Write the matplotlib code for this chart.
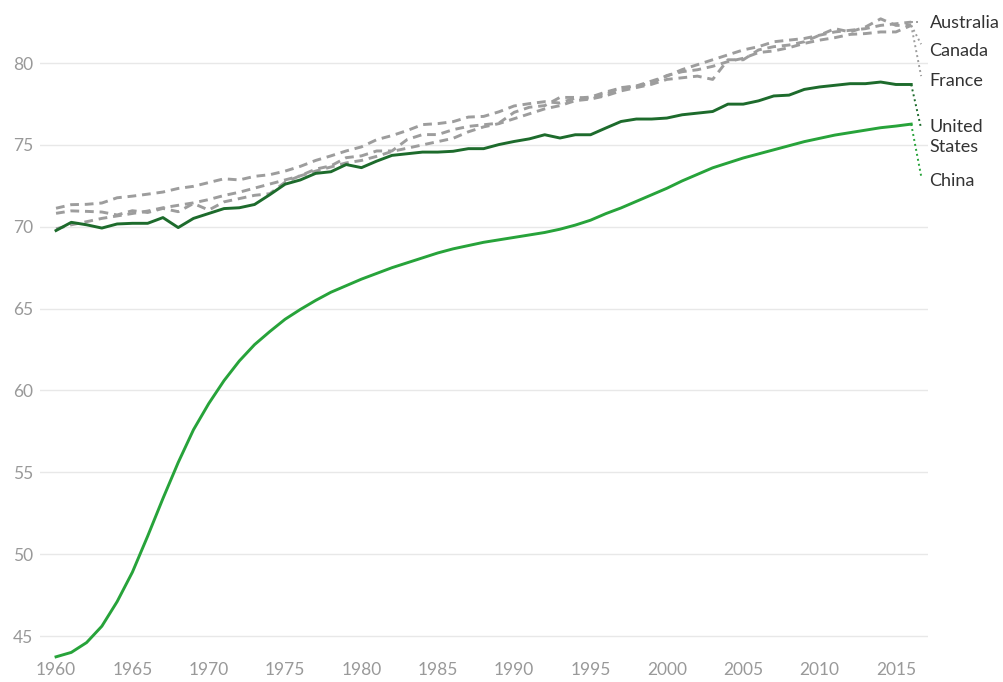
import matplotlib
matplotlib.use("Agg")
import matplotlib.pyplot as plt
import numpy as np

years = list(range(1960, 2017))

china = [43.73, 44.0, 44.6, 45.6, 47.1, 48.9, 51.1, 53.4, 55.6, 57.6,
         59.2, 60.6, 61.8, 62.8, 63.6, 64.35, 64.95, 65.5, 66.0, 66.4,
         66.8, 67.15, 67.5, 67.8, 68.1, 68.4, 68.65, 68.85, 69.05, 69.2,
         69.35, 69.5, 69.65, 69.85, 70.1, 70.4, 70.8, 71.15, 71.55, 71.95,
         72.35, 72.8, 73.2, 73.6, 73.9, 74.2, 74.45, 74.7, 74.95, 75.2,
         75.4, 75.6, 75.75, 75.9, 76.05, 76.15, 76.27]

united_states = [69.77, 70.27, 70.12, 69.92, 70.17, 70.21, 70.21, 70.56, 69.95, 70.51,
                 70.81, 71.11, 71.16, 71.36, 71.96, 72.6, 72.86, 73.26, 73.36, 73.8,
                 73.61, 74.01, 74.36, 74.46, 74.56, 74.56, 74.61, 74.77, 74.77, 75.02,
                 75.21, 75.37, 75.62, 75.42, 75.62, 75.62, 76.03, 76.43, 76.58, 76.58,
                 76.64, 76.84, 76.94, 77.04, 77.49, 77.49, 77.69, 77.99, 78.04, 78.39,
                 78.54, 78.64, 78.74, 78.74, 78.84, 78.69, 78.69]

canada = [71.13, 71.35, 71.37, 71.45, 71.77, 71.87, 71.99, 72.12, 72.34, 72.47,
          72.7, 72.93, 72.86, 73.08, 73.18, 73.4, 73.69, 74.05, 74.33, 74.63,
          74.88, 75.32, 75.57, 75.88, 76.24, 76.3, 76.42, 76.7, 76.74, 77.02,
          77.38, 77.52, 77.64, 77.56, 77.86, 77.92, 78.23, 78.48, 78.58, 78.79,
          79.24, 79.47, 79.59, 79.8, 80.09, 80.29, 80.64, 80.74, 80.94, 81.2,
          81.4, 81.55, 81.75, 81.8, 81.9, 81.9, 82.3]

australia = [70.82, 70.97, 70.94, 70.90, 70.72, 70.98, 70.87, 71.12, 70.92, 71.42,
             71.02, 71.52, 71.72, 71.92, 72.02, 72.72, 73.12, 73.52, 73.72, 74.22,
             74.33, 74.63, 74.63, 75.33, 75.63, 75.63, 75.93, 76.13, 76.23, 76.33,
             76.99, 77.3, 77.4, 77.9, 77.9, 77.8, 78.1, 78.5, 78.6, 78.9,
             79.2, 79.6, 79.9, 80.2, 80.5, 80.8, 81.0, 81.3, 81.4, 81.5,
             81.7, 81.9, 82.0, 82.1, 82.3, 82.4, 82.5]

france = [69.87, 70.12, 70.31, 70.51, 70.66, 70.81, 70.96, 71.16, 71.31, 71.46,
          71.66, 71.91, 72.11, 72.36, 72.61, 72.86, 73.11, 73.4, 73.65, 73.9,
          74.05, 74.3, 74.6, 74.8, 75.0, 75.2, 75.4, 75.8, 76.1, 76.3,
          76.6, 76.9, 77.2, 77.4, 77.7, 77.8, 78.0, 78.3, 78.5, 78.7,
          79.0, 79.1, 79.2, 79.0, 80.2, 80.2, 80.8, 81.0, 81.1, 81.3,
          81.7, 82.1, 81.9, 82.2, 82.7, 82.3, 82.3]

y_ticks = [45, 50, 55, 60, 65, 70, 75, 80]
x_ticks = [1960, 1965, 1970, 1975, 1980, 1985, 1990, 1995, 2000, 2005, 2010, 2015]
labels = ["Australia", "Canada", "France", "United\nStates", "China"]

plt.rcParams['font.family'] = ['Lato', 'DejaVu Sans']

W, H = 1004, 682
fig = plt.figure(figsize=(W / 100, H / 100), dpi=100)
ax = fig.add_axes([40 / W, 1 - 656 / H, (928 - 40) / W, (656 - 10) / H])

ax.set_xlim(1958.95, 2017.1)
ax.set_ylim(43.78, 83.24)

gray = "#9d9d9d"
dark_green = "#1d6b2c"
green = "#27a33a"

for s in [canada, australia, france]:
    ax.plot(years, s, color=gray, lw=2.1, dashes=(3.0, 2.0), zorder=2,
            solid_capstyle="butt", dash_capstyle="butt")
ax.plot(years, united_states, color=dark_green, lw=2.1, zorder=3)
ax.plot(years, china, color=green, lw=2.1, zorder=3, clip_on=False)

ax.set_yticks(y_ticks)
ax.set_xticks(x_ticks)
ax.grid(axis="y", color="#e8e8e8", lw=1)
ax.grid(axis="x", visible=False)
ax.set_axisbelow(True)
for sp in ax.spines.values():
    sp.set_visible(False)
ax.tick_params(axis="both", length=0, colors="#999999", labelsize=12.5)
ax.tick_params(axis="y", pad=5)
ax.tick_params(axis="x", pad=4)

# end labels with dotted connectors
end_x = years[-1]
conn_x = 2016.65
text_x = 2017.2
label_y = [82.42, 80.75, 78.92, 75.47, 72.82]
conn_y = [82.5, 81.15, 79.2, 76.0, 73.1]
ends = [australia[-1], canada[-1], france[-1], united_states[-1], china[-1]]
conn_colors = [gray, gray, gray, dark_green, green]
for lab, ly, cy, ey, cc in zip(labels, label_y, conn_y, ends, conn_colors):
    ax.plot([end_x, conn_x], [ey, cy], color=cc, lw=1.4, ls=(0, (1, 1.6)),
            clip_on=False, zorder=2)
    ax.text(text_x, ly, lab, color="#333333", fontsize=13, va="center",
            ha="left", linespacing=1.3, clip_on=False)

fig.savefig("out.png", dpi=100)
